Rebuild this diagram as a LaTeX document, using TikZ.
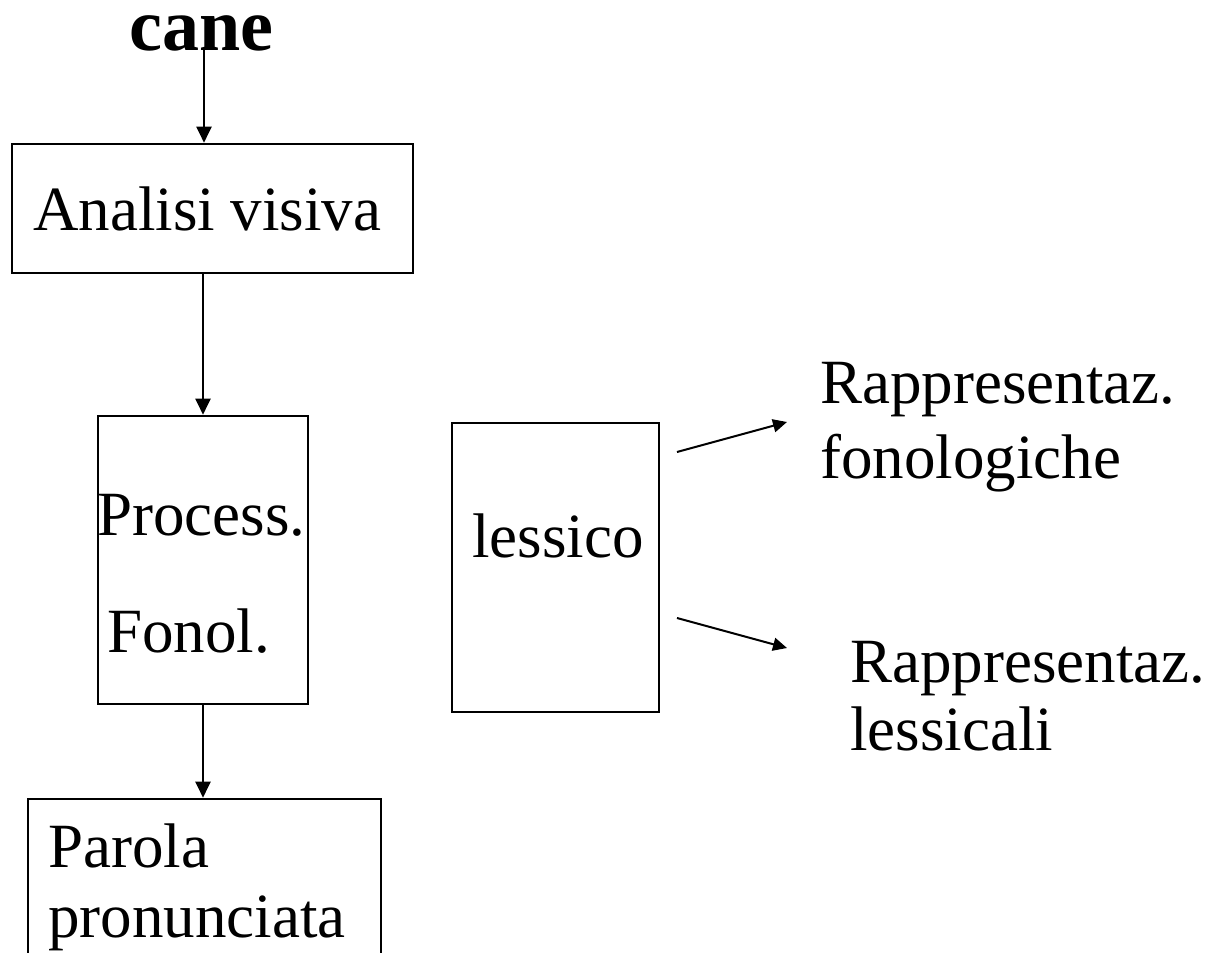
\documentclass[tikz,border=0pt]{standalone}
\usepackage{fontspec}
\setmainfont{Liberation Serif}
\usetikzlibrary{arrows.meta}
\begin{document}
\begin{tikzpicture}[x=1pt,y=-1pt,
  box/.style={draw, line width=2.6pt, rectangle, inner sep=0pt},
  lbl/.style={inner sep=0pt, anchor=base west, font=\fontsize{63}{75}\selectfont},
  arr/.style={line width=2pt, -{Triangle[length=16pt,width=15pt]}},
  sarr/.style={line width=2pt, -{Triangle[length=14pt,width=13pt]}}]
\useasboundingbox (0,0) rectangle (1229,953);
\clip (0,0) rectangle (1229,953);

% boxes
\node[box, minimum width=401pt, minimum height=129pt] (ana) at (212.5,208.5) {};
\node[box, minimum width=210pt, minimum height=288pt] (proc) at (203,560) {};
\node[box, minimum width=207pt, minimum height=289pt] (lex) at (555.5,567.5) {};
\node[box, minimum width=353pt, minimum height=200pt] (par) at (204.5,899) {};

% texts
\node[lbl, font=\fontsize{74}{80}\selectfont\bfseries] (cane) at (129,50) {cane};
\node[lbl] (anatxt) at (33,230) {Analisi visiva};
\node[lbl] (proctxt) at (97,535) {Process.};
\node[lbl] (fontxt) at (107,652) {Fonol.};
\node[lbl] (lextxt) at (472,557) {lessico};
\node[lbl] (partxt) at (48,867) {Parola};
\node[lbl] (prontxt) at (48,937) {pronunciata};
\node[lbl] (rf1) at (820,403) {Rappresentaz.};
\node[lbl] (rf2) at (820,478) {fonologiche};
\node[lbl] (rl1) at (850,682) {Rappresentaz.};
\node[lbl] (rl2) at (850,750) {lessicali};

% connector ends
\coordinate (canefoot) at (204,48);
\coordinate (up0) at (677,452);
\coordinate (up1) at (787,422);
\coordinate (dn0) at (677,618);
\coordinate (dn1) at (787,648);

% connectors
\draw[arr] (canefoot) -- (canefoot |- ana.north);
\draw[arr] (ana.south -| proc.north) -- (proc.north);
\draw[arr] (proc.south) -- (proc.south |- par.north);
\draw[sarr] (up0) -- (up1);
\draw[sarr] (dn0) -- (dn1);
\end{tikzpicture}
\end{document}
